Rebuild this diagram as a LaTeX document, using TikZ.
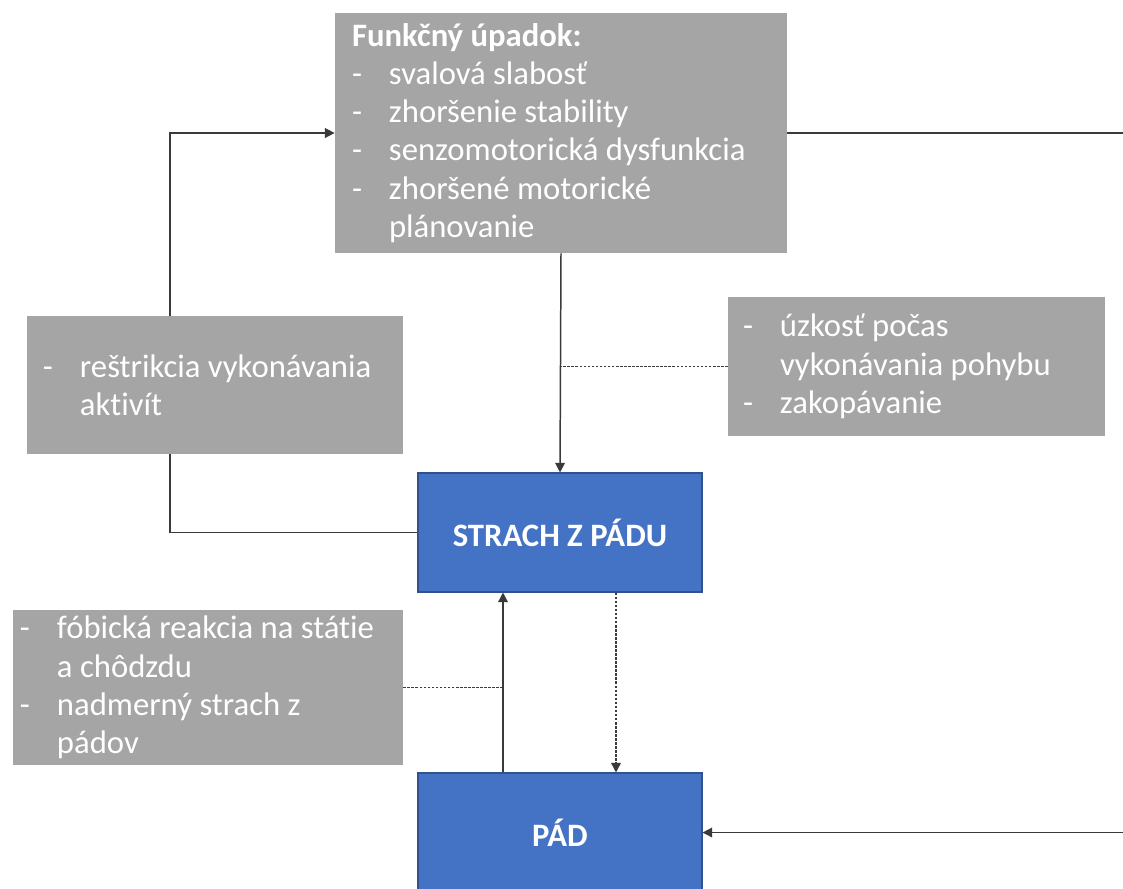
\documentclass[tikz,border=0pt]{standalone}
\usepackage{fontspec}
\setmainfont{Carlito}[Ligatures=NoCommon]
\usetikzlibrary{arrows.meta}
\definecolor{sivaf}{HTML}{A5A5A5}
\definecolor{modraf}{HTML}{4472C4}
\definecolor{modrao}{HTML}{2F528F}
\definecolor{ciara}{HTML}{3A3A3A}
\newcommand{\odr}[1]{\makebox[0.74cm][l]{-}#1}
\newcommand{\dalej}{\hspace*{0.74cm}}

\begin{document}
\begin{tikzpicture}[x=0.2mm,y=-0.2mm,>={Triangle[length=5.5pt,width=5.5pt]},
    sivy/.style={fill=sivaf,text=white,align=flush left,font=\fontsize{18.6}{21.8}\selectfont},
    modry/.style={fill=modraf,draw=modrao,line width=0.6pt,text=white,minimum width=5.68cm,minimum height=2.38cm,font=\fontsize{18.6}{21}\selectfont\bfseries},
    spoj/.style={draw=ciara,line width=0.85pt},
    bodky/.style={draw=ciara,line width=0.85pt,dash pattern=on 1.5pt off 0.8pt}]
        \useasboundingbox (0,0) rectangle (1123,888);
        \node [sivy,text width=8.36cm,inner xsep=0.34cm,minimum height=4.8cm] (funk) at (561,133)
            {\textbf{Funkčný úpadok:}\\ \odr{svalová slabosť}\\ \odr{zhoršenie stability}\\ \odr{senzomotorická dysfunkcia}\\ \odr{zhoršené motorické}\\ \dalej plánovanie};
        \node [sivy,text width=6.88cm,inner xsep=0.32cm,minimum height=2.76cm] (restr) at (215,385)
            {\odr{reštrikcia vykonávania}\\ \dalej aktivít};
        \node [sivy,text width=6.94cm,inner xsep=0.30cm,minimum height=2.78cm] (uzk) at (916.5,366.5)
            {\odr{úzkosť počas}\\ \dalej vykonávania pohybu\\ \odr{zakopávanie}};
        \node [sivy,text width=7.52cm,inner xsep=0.14cm,minimum height=3.02cm] (fob) at (208,687.5)
            {\odr{fóbická reakcia na státie}\\ \dalej a chôdzdu\\ \odr{nadmerný strach z}\\ \dalej pádov};
        \node [modry] (strach) at (560,532.5) {STRACH Z PÁDU};
        \node [modry] (pad) at (560,832.5) {PÁD};
        \coordinate (lx) at (170,0);
        \coordinate (px) at (503,0);
        \coordinate (sx) at (616,0);
        \coordinate (rx) at (1135,0);
        % slucka cez obmedzenie aktivit
        \draw [spoj] (strach.west) -| (lx |- restr.south);
        \draw [spoj,->] (lx |- restr.north) |- (funk.west);
        \draw [spoj,->] (funk.south) -- (strach.north);
        \draw [bodky] (uzk.west) -- (uzk.west -| funk.south);
        % medzi strachom a padom
        \draw [spoj,->] (px |- pad.north) -- (px |- strach.south);
        \draw [bodky] (fob.east) -- (fob.east -| px);
        \draw [bodky,->] (sx |- strach.south) -- (sx |- pad.north);
        % vonkajsia slucka vpravo
        \draw [spoj,->] (funk.east) -- (rx |- funk.east) -- (rx |- pad.east) -- (pad.east);
    \end{tikzpicture}
\end{document}
